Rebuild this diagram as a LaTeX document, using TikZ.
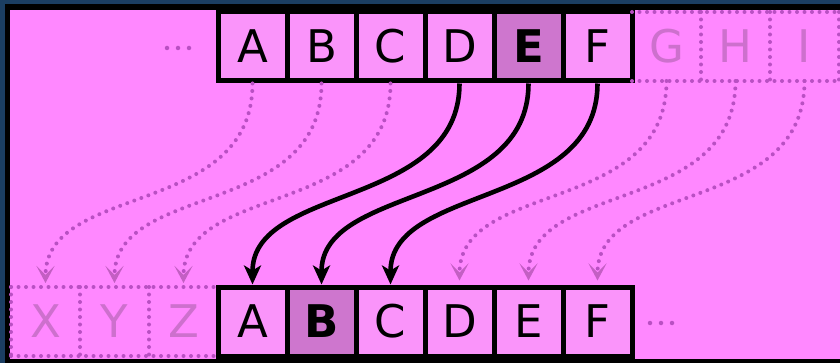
\documentclass[tikz,border=0pt]{standalone}
\usepackage{fontspec}
\setmainfont{DejaVu Sans}
\usetikzlibrary{arrows.meta}
\definecolor{bgpink}{RGB}{255,136,255}
\definecolor{cellpink}{RGB}{250,148,250}
\definecolor{hilite}{RGB}{206,118,206}
\definecolor{ghost}{RGB}{185,80,195}
\definecolor{ghosthead}{RGB}{195,95,195}
\definecolor{ghosttext}{RGB}{205,112,205}
\definecolor{frameblue}{RGB}{27,62,98}
\begin{document}
\begin{tikzpicture}[x=1pt,y=-1pt,
  letters/.style={font=\fontsize{45}{45}\selectfont},
  cell/.style={letters,draw=black,line width=5pt,fill=cellpink,minimum width=69pt,minimum height=69pt,inner sep=0pt},
  hicell/.style={cell,fill=hilite,font=\fontsize{45}{45}\selectfont\bfseries},
  ghostcell/.style={letters,text=ghosttext,minimum width=69pt,minimum height=69pt,inner sep=0pt,outer sep=0pt},
  ghostline/.style={draw=ghost,line width=4pt,line cap=round,dash pattern=on 0pt off 7.5pt},
  ghostarrow/.style={ghostline,-{Stealth[length=17pt,width=18pt,inset=9pt,fill=ghosthead,color=ghosthead]},shorten >=4pt},
  blackarrow/.style={draw=black,line width=4.6pt,-{Stealth[length=19pt,width=17pt,inset=5pt]}},
]
\useasboundingbox (0,0) rectangle (840,363);
\fill[frameblue] (0,0) rectangle (840,363);
\fill[black] (5,4) rectangle (840,363);
\fill[bgpink] (10,10) rectangle (840,359);

% top row
\node[cell]   (tA) at (252.5,46.5) {A};
\node[cell]   (tB) at (321.5,46.5) {B};
\node[cell]   (tC) at (390.5,46.5) {C};
\node[cell]   (tD) at (459.5,46.5) {D};
\node[hicell] (tE) at (528.5,46.5) {E};
\node[cell]   (tF) at (597.5,46.5) {F};
\node[ghostcell] (tG) at (666.5,46.5) {G};
\node[ghostcell] (tH) at (735.5,46.5) {H};
\node[ghostcell] (tI) at (804.5,46.5) {I};

% bottom row
\node[ghostcell] (bX) at (45.5,321.5) {X};
\node[ghostcell] (bY) at (114.5,321.5) {Y};
\node[ghostcell] (bZ) at (183.5,321.5) {Z};
\node[cell]   (bA) at (252.5,321.5) {A};
\node[hicell] (bB) at (321.5,321.5) {B};
\node[cell]   (bC) at (390.5,321.5) {C};
\node[cell]   (bD) at (459.5,321.5) {D};
\node[cell]   (bE) at (528.5,321.5) {E};
\node[cell]   (bF) at (597.5,321.5) {F};

% ghost grids
\draw[ghostline] (tG.north west) -- (tI.north east);
\draw[ghostline] (tG.south west) -- (tI.south east);
\draw[ghostline] (tG.north east) -- (tG.south east);
\draw[ghostline] (tH.north east) -- (tH.south east);
\draw[ghostline] (tI.north east) -- (tI.south east);
\draw[ghostline] (bX.north west) -- (bZ.north east);
\draw[ghostline] (bX.south west) -- (bZ.south east);
\draw[ghostline] (bX.north west) -- (bX.south west);
\draw[ghostline] (bX.north east) -- (bX.south east);
\draw[ghostline] (bY.north east) -- (bY.south east);

% ellipses
\coordinate (e1a) at (167,48); \coordinate (e1b) at (200,48);
\coordinate (e2a) at (650,323); \coordinate (e2b) at (683,323);
\draw[ghostline,line width=4.5pt,dash pattern=on 0pt off 11pt] (e1a) -- (e1b);
\draw[ghostline,line width=4.5pt,dash pattern=on 0pt off 11pt] (e2a) -- (e2b);

% dotted wrap-around arrows
\draw[ghostarrow] (tA.south) .. controls +(0,135) and +(0,-105) .. (bX.north);
\draw[ghostarrow] (tB.south) .. controls +(0,135) and +(0,-105) .. (bY.north);
\draw[ghostarrow] (tC.south) .. controls +(0,135) and +(0,-105) .. (bZ.north);
\draw[ghostarrow] (tG.south) .. controls +(0,135) and +(0,-105) .. (bD.north);
\draw[ghostarrow] (tH.south) .. controls +(0,135) and +(0,-105) .. (bE.north);
\draw[ghostarrow] (tI.south) .. controls +(0,135) and +(0,-105) .. (bF.north);

% shift arrows
\draw[blackarrow] (tD.south) .. controls +(0,125) and +(0,-100) .. (bA.north);
\draw[blackarrow] (tE.south) .. controls +(0,125) and +(0,-100) .. (bB.north);
\draw[blackarrow] (tF.south) .. controls +(0,125) and +(0,-100) .. (bC.north);
\end{tikzpicture}
\end{document}
